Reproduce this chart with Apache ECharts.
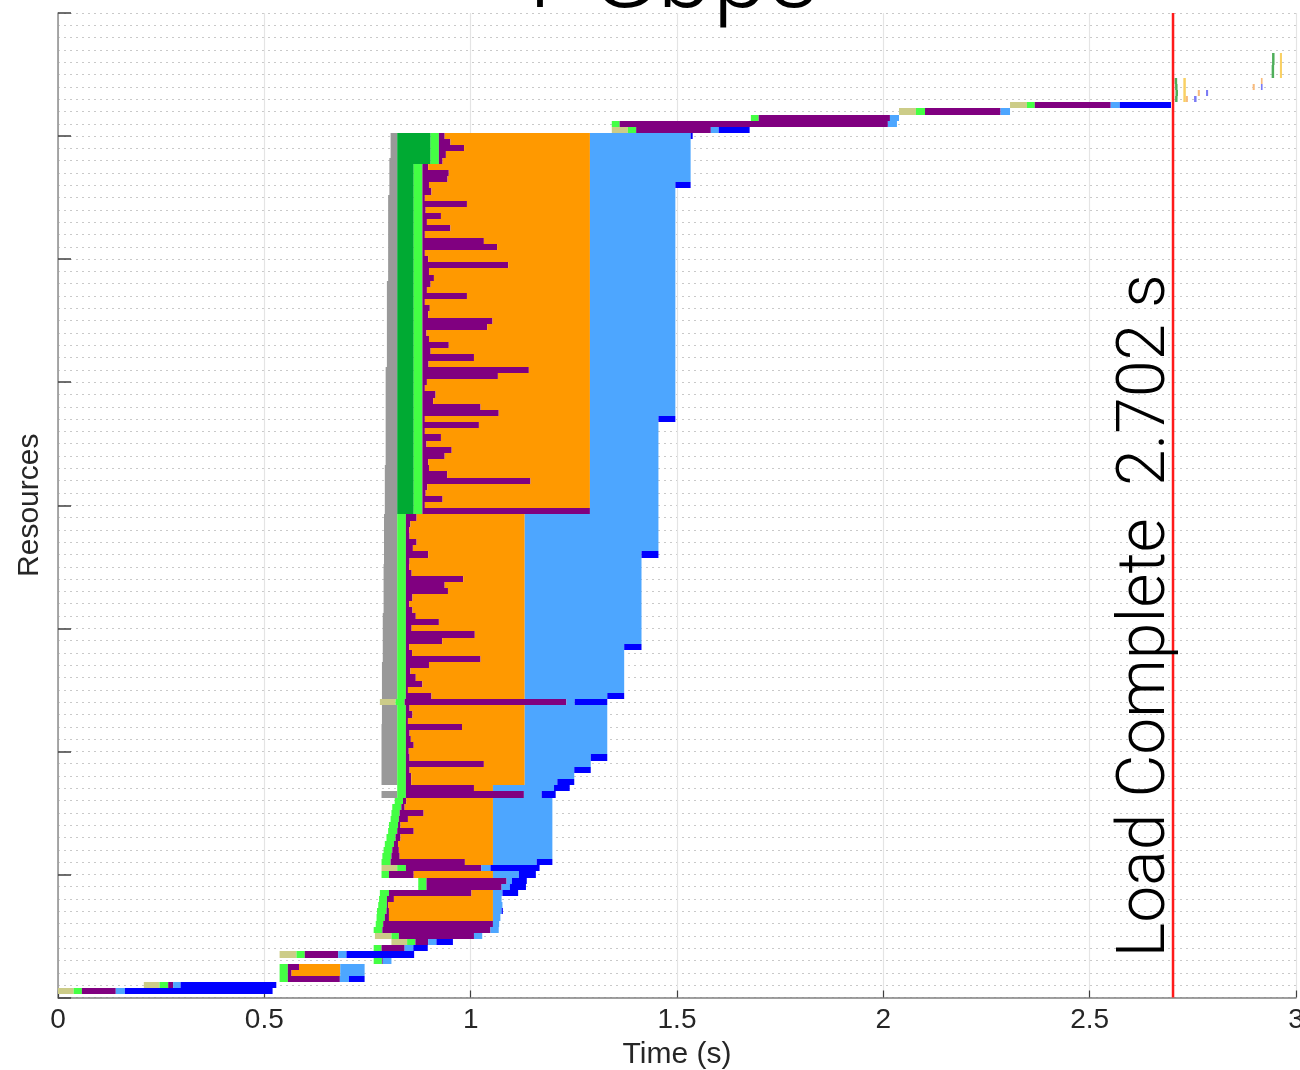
<!DOCTYPE html>
<html><head><meta charset="utf-8">
<script src="https://cdn.jsdelivr.net/npm/echarts@6/dist/echarts.min.js"></script>
<style>html,body{margin:0;padding:0;background:#fff}#c{width:1300px;height:1070px}</style>
</head><body><div id="c"></div>
<script>
const _ = null;
const titleText = '1 Gbps';
const loadCompleteTime = 2.702;
const loadLabel = 'Load Complete  2.702 s';
const xTickValues = [0, 0.5, 1, 1.5, 2, 2.5, 3];
const yMax = 160;

// start time (s) of each resource row, row 1 = bottom
const rowStart = [
0.000,0.208,0.537,0.537,0.537,0.765,0.537,0.765,0.808,0.768,
0.765,0.770,0.772,0.773,0.776,0.778,0.780,0.873,0.873,0.784,
0.784,0.784,0.786,0.789,0.792,0.796,0.800,0.802,0.806,0.808,
0.810,0.816,0.784,0.822,0.784,0.784,0.784,0.784,0.784,0.784,
0.784,0.784,0.784,0.784,0.785,0.785,0.785,0.780,0.785,0.785,
0.785,0.785,0.785,0.785,0.787,0.787,0.787,0.787,0.787,0.787,
0.787,0.787,0.789,0.789,0.789,0.789,0.789,0.789,0.789,0.789,
0.790,0.790,0.790,0.790,0.790,0.790,0.790,0.790,0.792,0.792,
0.792,0.792,0.792,0.792,0.792,0.792,0.794,0.794,0.794,0.794,
0.794,0.794,0.794,0.794,0.794,0.794,0.794,0.794,0.794,0.794,
0.794,0.794,0.797,0.797,0.797,0.797,0.797,0.797,0.797,0.797,
0.797,0.797,0.797,0.797,0.797,0.797,0.800,0.800,0.800,0.800,
0.800,0.800,0.800,0.800,0.800,0.800,0.800,0.800,0.800,0.800,
0.803,0.803,0.803,0.803,0.803,0.803,0.806,0.806,0.806,0.806,
1.342,1.342,1.679,2.038,2.307];

// end time (s) of each phase; null = phase absent
const blockedEnd = [
_,_,_,_,_,_,_,_,_,_,
_,_,_,_,_,_,_,_,_,_,
_,_,_,_,_,_,_,_,_,_,
_,_,0.822,_,0.822,0.822,0.822,0.822,0.822,0.822,
0.822,0.822,0.822,0.822,0.822,0.822,0.822,_,0.822,0.822,
0.822,0.822,0.822,0.822,0.822,0.822,0.822,0.822,0.822,0.822,
0.822,0.822,0.822,0.822,0.822,0.822,0.822,0.822,0.822,0.822,
0.822,0.822,0.822,0.822,0.822,0.822,0.822,0.822,0.822,0.822,
0.822,0.822,0.822,0.822,0.822,0.822,0.822,0.822,0.822,0.822,
0.822,0.822,0.822,0.822,0.822,0.822,0.822,0.822,0.822,0.822,
0.822,0.822,0.822,0.822,0.822,0.822,0.822,0.822,0.822,0.822,
0.822,0.822,0.822,0.822,0.822,0.822,0.822,0.822,0.822,0.822,
0.822,0.822,0.822,0.822,0.822,0.822,0.822,0.822,0.822,0.822,
0.822,0.822,0.822,0.822,0.822,0.822,0.822,0.822,0.822,0.822,
_,_,_,_,_];

const dnsEnd = [
0.038,0.246,_,_,_,_,0.578,_,0.846,0.808,
_,_,_,_,_,_,_,_,_,_,
0.822,_,_,_,_,_,_,_,_,_,
_,_,_,_,_,_,_,_,_,_,
_,_,_,_,_,_,_,0.818,_,_,
_,_,_,_,_,_,_,_,_,_,
_,_,_,_,_,_,_,_,_,_,
_,_,_,_,_,_,_,_,_,_,
_,_,_,_,_,_,_,_,_,_,
_,_,_,_,_,_,_,_,_,_,
_,_,_,_,_,_,_,_,_,_,
_,_,_,_,_,_,_,_,_,_,
_,_,_,_,_,_,_,_,_,_,
_,_,_,_,_,_,_,_,_,_,
1.381,_,_,2.079,2.348];

const connectEnd = [
_,_,_,_,_,_,_,_,_,_,
_,_,_,_,_,_,_,_,_,_,
_,_,_,_,_,_,_,_,_,_,
_,_,_,_,_,_,_,_,_,_,
_,_,_,_,_,_,_,_,_,_,
_,_,_,_,_,_,_,_,_,_,
_,_,_,_,_,_,_,_,_,_,
_,_,_,_,_,_,_,_,0.862,0.862,
0.862,0.862,0.862,0.862,0.862,0.862,0.862,0.862,0.862,0.862,
0.862,0.862,0.862,0.862,0.862,0.862,0.862,0.862,0.862,0.862,
0.862,0.862,0.862,0.862,0.862,0.862,0.862,0.862,0.862,0.862,
0.862,0.862,0.862,0.862,0.862,0.862,0.862,0.862,0.862,0.862,
0.862,0.862,0.862,0.862,0.862,0.862,0.862,0.862,0.862,0.862,
0.862,0.862,0.862,0.862,0.862,0.903,0.903,0.903,0.903,0.903,
_,_,_,_,_];

const sendEnd = [
0.058,0.267,0.557,0.557,0.557,0.785,0.598,0.784,0.866,0.826,
0.786,0.788,0.792,0.796,0.797,0.797,0.802,0.893,0.893,0.802,
0.843,0.806,0.808,0.810,0.814,0.818,0.822,0.824,0.826,0.828,
0.832,0.836,0.843,0.843,0.843,0.843,0.843,0.843,0.843,0.843,
0.843,0.843,0.843,0.843,0.843,0.843,0.843,0.840,0.843,0.843,
0.843,0.843,0.843,0.843,0.843,0.843,0.843,0.843,0.843,0.843,
0.843,0.843,0.843,0.843,0.843,0.843,0.843,0.843,0.843,0.843,
0.843,0.843,0.843,0.843,0.843,0.843,0.843,0.843,0.883,0.883,
0.883,0.883,0.883,0.883,0.883,0.883,0.883,0.883,0.883,0.883,
0.883,0.883,0.883,0.883,0.883,0.883,0.883,0.883,0.883,0.883,
0.883,0.883,0.883,0.883,0.883,0.883,0.883,0.883,0.883,0.883,
0.883,0.883,0.883,0.883,0.883,0.883,0.883,0.883,0.883,0.883,
0.883,0.883,0.883,0.883,0.883,0.883,0.883,0.883,0.883,0.883,
0.883,0.883,0.883,0.883,0.883,0.923,0.923,0.923,0.923,0.923,
1.401,1.361,1.698,2.101,2.367];

const waitEnd = [
0.140,0.279,0.683,0.566,0.584,0.787,0.679,0.840,0.897,1.008,
1.048,1.054,0.802,0.802,0.800,0.814,1.002,1.075,1.087,0.862,
1.026,0.986,0.828,0.826,0.824,0.830,0.862,0.830,0.848,0.886,
0.840,0.844,1.129,1.008,0.856,0.856,0.852,1.032,0.852,0.850,
0.862,0.855,0.852,0.979,0.848,0.859,0.852,1.232,0.905,0.848,
0.883,0.867,0.854,0.899,1.024,0.858,0.851,0.931,1.010,0.857,
0.923,0.867,0.859,0.851,0.859,0.945,0.937,0.982,0.857,0.851,
0.852,0.897,0.860,0.869,0.852,0.851,0.854,0.869,1.289,0.889,
0.932,0.891,0.895,1.145,0.943,0.899,0.897,0.937,0.954,0.893,
0.928,0.889,1.020,0.889,1.068,1.024,0.909,0.915,0.889,0.894,
1.066,1.141,0.898,1.008,0.903,0.947,0.899,0.893,1.040,1.053,
0.897,0.901,0.889,0.991,0.894,0.903,0.911,0.899,1.091,0.897,
0.889,1.064,1.032,0.889,0.951,0.894,0.928,0.891,0.991,0.889,
0.905,0.899,0.944,0.947,0.897,0.932,0.940,0.984,0.951,0.937,
1.582,2.011,2.016,2.284,2.551];

const queueEnd = [
_,_,_,0.684,0.684,_,_,_,_,_,
_,_,1.054,1.054,1.054,1.054,1.054,_,_,1.054,
_,1.054,1.054,1.054,1.054,1.054,1.054,1.054,1.054,1.054,
1.054,1.054,_,1.054,1.131,1.131,1.131,1.131,1.131,1.131,
1.131,1.131,1.131,1.131,1.131,1.131,1.131,_,1.131,1.131,
1.131,1.131,1.131,1.131,1.131,1.131,1.131,1.131,1.131,1.131,
1.131,1.131,1.131,1.131,1.131,1.131,1.131,1.131,1.131,1.131,
1.131,1.131,1.131,1.131,1.131,1.131,1.131,1.131,_,1.289,
1.289,1.289,1.289,1.289,1.289,1.289,1.289,1.289,1.289,1.289,
1.289,1.289,1.289,1.289,1.289,1.289,1.289,1.289,1.289,1.289,
1.289,1.289,1.289,1.289,1.289,1.289,1.289,1.289,1.289,1.289,
1.289,1.289,1.289,1.289,1.289,1.289,1.289,1.289,1.289,1.289,
1.289,1.289,1.289,1.289,1.289,1.289,1.289,1.289,1.289,1.289,
1.289,1.289,1.289,1.289,1.289,1.289,1.289,1.289,1.289,1.289,
_,_,_,_,_];

const receiveEnd = [
0.162,0.297,0.705,0.743,0.743,0.808,0.699,0.861,0.917,1.028,
1.068,1.069,1.072,1.075,1.077,1.075,1.077,1.095,1.100,1.117,
1.048,1.160,1.198,1.198,1.198,1.198,1.198,1.198,1.198,1.198,
1.198,1.198,1.172,1.202,1.210,1.251,1.251,1.291,1.291,1.331,
1.331,1.331,1.331,1.331,1.331,1.331,1.331,1.252,1.331,1.372,
1.372,1.372,1.372,1.372,1.372,1.372,1.372,1.414,1.414,1.414,
1.414,1.414,1.414,1.414,1.414,1.414,1.414,1.414,1.414,1.414,
1.414,1.414,1.455,1.455,1.455,1.455,1.455,1.455,1.455,1.455,
1.455,1.455,1.455,1.455,1.455,1.455,1.455,1.455,1.455,1.455,
1.455,1.455,1.455,1.455,1.496,1.496,1.496,1.496,1.496,1.496,
1.496,1.496,1.496,1.496,1.496,1.496,1.496,1.496,1.496,1.496,
1.496,1.496,1.496,1.496,1.496,1.496,1.496,1.496,1.496,1.496,
1.496,1.496,1.496,1.496,1.496,1.496,1.496,1.496,1.496,1.496,
1.496,1.496,1.533,1.533,1.533,1.533,1.533,1.533,1.533,1.533,
1.601,2.033,2.038,2.307,2.573];

const contentEnd = [
0.520,0.529,0.743,_,_,_,0.863,0.896,0.957,_,
_,_,_,1.078,_,_,1.115,1.134,1.136,1.158,
1.167,1.198,_,_,_,_,_,_,_,_,
_,_,1.206,1.240,1.251,_,1.291,_,1.331,_,
_,_,_,_,_,_,_,1.331,1.372,_,
_,_,_,_,_,_,1.414,_,_,_,
_,_,_,_,_,_,_,_,_,_,
_,1.455,_,_,_,_,_,_,_,_,
_,_,_,_,_,_,_,_,_,_,
_,_,_,1.496,_,_,_,_,_,_,
_,_,_,_,_,_,_,_,_,_,
_,_,_,_,_,_,_,_,_,_,
_,_,_,_,_,_,_,_,_,_,
_,1.533,_,_,_,_,_,_,_,1.538,
1.676,_,_,_,2.697];

// tiny late requests (after load complete)
const tinyRow   = [146,147,148,149, 146,147,148,149, 146,146,147,147,148,148,149, 150,151,152,153, 150,151,152,153];
const tinyStart = [2.707,2.708,2.707,2.706, 2.727,2.727,2.727,2.727, 2.733,2.753,2.762,2.782,2.895,2.915,2.915, 2.941,2.941,2.942,2.942, 2.961,2.961,2.961,2.961];
const tinyEnd   = [2.713,2.714,2.713,2.712, 2.733,2.733,2.733,2.733, 2.738,2.759,2.767,2.787,2.900,2.919,2.919, 2.947,2.947,2.948,2.948, 2.966,2.966,2.966,2.966];
const tinyKind  = [0,0,0,0, 1,1,1,1, 2,3,2,3,2,3,2, 0,0,0,0, 1,1,1,1];
const tinyColors = ['#4fae5a', '#f9d063', '#f8bb7c', '#7a7af5'];

const phaseNames  = ['blocked','dns','connect','send','wait','queue','receive','content'];
const phaseColors = ['#999999','#CCCC88','#00AA33','#44FF44','#800080','#FF9900','#4DA6FF','#0000FF'];
const phaseEnds   = [blockedEnd, dnsEnd, connectEnd, sendEnd, waitEnd, queueEnd, receiveEnd, contentEnd];

const segData = phaseNames.map(() => []);
for (let i = 0; i < rowStart.length; i++) {
  let cur = rowStart[i];
  for (let p = 0; p < phaseEnds.length; p++) {
    const e = phaseEnds[p][i];
    if (e !== null && e !== undefined) { segData[p].push([i + 1, cur, e]); cur = e; }
  }
}
const tinyData = tinyRow.map((r, i) => ({ value: [r, tinyStart[i], tinyEnd[i]], itemStyle: { color: tinyColors[tinyKind[i]] } }));

function renderRect(params, api) {
  const row = api.value(0);
  const a = api.coord([api.value(1), row + 0.5]);
  const b = api.coord([api.value(2), row - 0.5]);
  const y0 = Math.round(a[1]), y1 = Math.round(b[1]);
  return { type: 'rect', shape: { x: a[0], y: y0, width: Math.max(b[0] - a[0], 0.6), height: y1 - y0 },
           style: { fill: api.visual('color') } };
}

const series = phaseNames.map((n, p) => ({
  type: 'custom', name: n, renderItem: renderRect, data: segData[p],
  encode: { x: [1, 2], y: 0 }, itemStyle: { color: phaseColors[p] }, clip: true, silent: true
}));
series.push({ type: 'custom', name: 'late', renderItem: renderRect, data: tinyData, encode: { x: [1, 2], y: 0 }, clip: true, silent: true });
series.push({ type: 'line', name: 'loadComplete', data: [[loadCompleteTime, 0], [loadCompleteTime, yMax]],
  symbol: 'none', lineStyle: { color: '#FF1A1A', width: 2.5 }, z: 10, silent: true });

const gridDot = { color: '#c9c9c9', width: 1, type: [2, 4] };
const axisFont = 'Liberation Sans';
const option = {
  animation: false,
  backgroundColor: '#ffffff',
  grid: { left: 58, right: 4, top: 13, bottom: 72.5, containLabel: false, outerBoundsMode: 'none' },
  xAxis: {
    type: 'value', min: xTickValues[0], max: xTickValues[xTickValues.length - 1], interval: 0.5,
    name: 'Time (s)', nameLocation: 'middle', nameGap: 40,
    nameTextStyle: { fontFamily: axisFont, fontSize: 30, color: '#262626' },
    axisLine: { show: true, lineStyle: { color: '#808080', width: 1.5 } },
    axisTick: { show: true, inside: true, length: 7, lineStyle: { color: '#404040', width: 1.2 } },
    axisLabel: { fontFamily: axisFont, fontSize: 28, color: '#262626', margin: 9, showMaxLabel: true, showMinLabel: true, hideOverlap: false },
    splitLine: { show: true, lineStyle: { color: '#e4e4e4', width: 1.2 } }
  },
  yAxis: {
    type: 'value', min: 0, max: yMax, interval: 20,
    name: 'Resources', nameLocation: 'middle', nameGap: 13,
    nameTextStyle: { fontFamily: axisFont, fontSize: 30, color: '#262626' },
    axisLine: { show: true, lineStyle: { color: '#8c8c8c', width: 1.5 } },
    axisTick: { show: true, inside: true, length: 13, lineStyle: { color: '#404040', width: 1.5 } },
    axisLabel: { show: false },
    splitLine: { show: true, lineStyle: gridDot },
    minorTick: { show: false, splitNumber: 10 },
    minorSplitLine: { show: true, lineStyle: gridDot }
  },
  series: series
};

const chart = echarts.init(document.getElementById('c'), null, { renderer: 'canvas' });
chart.setOption(option);
const p0 = chart.convertToPixel({ gridIndex: 0 }, [loadCompleteTime, 0]);
chart.setOption({
  graphic: [
    { type: 'text', x: p0[0] - 26, y: p0[1] - 40, rotation: Math.PI / 2, z: 20, silent: true,
      style: { text: loadLabel, font: '300 66px Roboto', fill: '#000', align: 'left', verticalAlign: 'middle' } },
    { type: 'text', x: 664, y: -18, z: 20, silent: true,
      style: { text: titleText, font: '300 100px Roboto', fill: '#000', align: 'center', verticalAlign: 'middle' } }
  ]
});
</script>
</body></html>
